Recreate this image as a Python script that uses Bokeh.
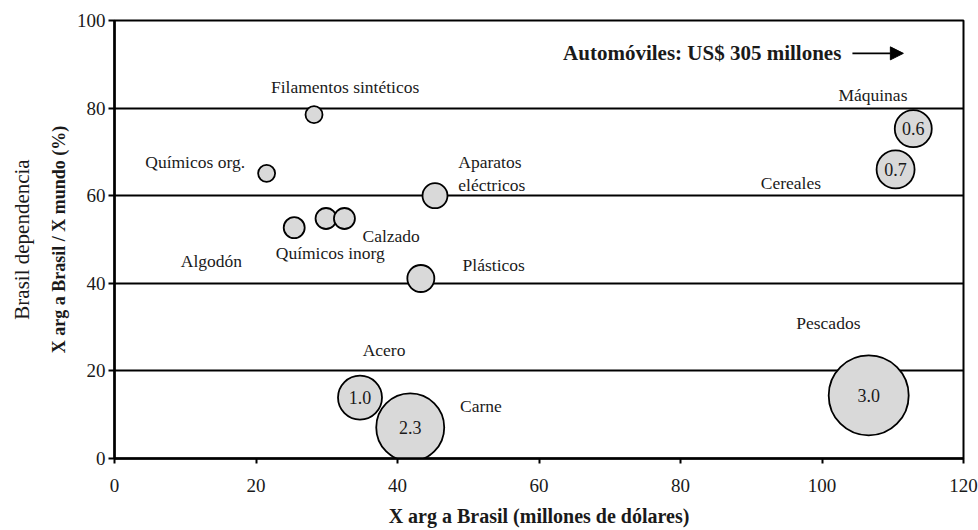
from bokeh.plotting import figure
from bokeh.models import Arrow, NormalHead, Title, FixedTicker, ColumnDataSource
from bokeh.core.properties import value
from bokeh.embed import file_html
from bokeh.resources import INLINE

# ---- data ----
products = ["Filamentos sintéticos", "Químicos org.", "Algodón", "Químicos inorg", "Calzado",
            "Aparatos eléctricos", "Plásticos", "Acero", "Carne", "Pescados", "Máquinas", "Cereales"]
x_exports = [28.2, 21.5, 25.4, 29.9, 32.5, 45.3, 43.3, 34.7, 41.8, 106.6, 112.9, 110.4]
y_dependence = [78.5, 65.1, 52.7, 54.8, 54.8, 60.0, 41.1, 13.9, 7.1, 14.4, 75.3, 66.0]
bubble_value = ["", "", "", "", "", "", "", "1.0", "2.3", "3.0", "0.6", "0.7"]
x_ticks = [0, 20, 40, 60, 80, 100, 120]
y_ticks = [0, 20, 40, 60, 80, 100]
auto_note = "Automóviles: US$ 305 millones"

# ---- presentation (sizes / label placement) ----
bubble_diam = [17, 17, 21, 21, 21, 25, 27, 44, 68, 80, 37, 38]
label_text = ["Filamentos sintéticos", "Químicos org.", "Algodón", "Químicos inorg", "Calzado",
              "Aparatos\neléctricos", "Plásticos", "Acero", "Carne", "Pescados", "Máquinas", "Cereales"]
label_x = [32.6, 11.4, 13.7, 30.5, 39.1, 48.6, 53.6, 38.1, 51.8, 100.9, 107.2, 95.6]
label_y = [84.9, 67.6, 45.2, 47.0, 50.9, 65.1, 44.1, 24.7, 12.1, 31.0, 82.9, 63.0]
label_align = ["center", "center", "center", "center", "center", "left",
               "center", "center", "center", "center", "center", "center"]

FONT = "Liberation Serif"

p = figure(width=978, height=530, x_range=(0, 120), y_range=(0, 100),
           output_backend="svg", toolbar_location=None,
           min_border_left=113, min_border_right=15, min_border_top=20, min_border_bottom=72)
p.background_fill_color = "white"
p.border_fill_color = "white"
p.outline_line_color = "black"
p.outline_line_width = 2

p.xgrid.visible = False
p.ygrid.grid_line_color = "black"
p.ygrid.grid_line_width = 1.8
p.ygrid.ticker = FixedTicker(ticks=y_ticks)

for ax in (p.xaxis[0], p.yaxis[0]):
    ax.axis_line_color = "black"
    ax.axis_line_width = 2.5
    ax.major_tick_line_color = "black"
    ax.major_tick_line_width = 2
    ax.major_tick_in = 0
    ax.minor_tick_line_color = None
    ax.major_label_text_font = FONT
    ax.major_label_text_font_size = "19px"
    ax.major_label_text_color = "#1a1a1a"

p.xaxis.ticker = FixedTicker(ticks=x_ticks)
p.yaxis.ticker = FixedTicker(ticks=y_ticks)
p.xaxis.major_tick_out = 5
p.yaxis.major_tick_out = 6
p.xaxis.major_label_standoff = 15
p.yaxis.major_label_standoff = 3

p.xaxis.axis_label = "X arg a Brasil (millones de dólares)"
p.xaxis.axis_label_text_font = FONT
p.xaxis.axis_label_text_font_style = "bold"
p.xaxis.axis_label_text_font_size = "20px"
p.xaxis.axis_label_text_color = "#1a1a1a"
p.xaxis.axis_label_standoff = 10

p.add_layout(Title(text="X arg a Brasil / X mundo (%)", text_font=FONT, text_font_size="18px",
                   text_font_style="bold", text_color="#1a1a1a", align="center", standoff=10), "left")
p.add_layout(Title(text="Brasil dependencia", text_font=FONT, text_font_size="21px",
                   text_font_style="normal", text_color="#1a1a1a", align="center", standoff=15), "left")

src = ColumnDataSource(dict(x=x_exports, y=y_dependence, d=bubble_diam, v=bubble_value))
p.scatter("x", "y", size="d", source=src, marker="circle", fill_color="#d9d9d9",
          line_color="black", line_width=1.8)
p.text("x", "y", text="v", source=src, text_font=value(FONT), text_font_size="18px",
       text_align="center", text_baseline="middle", text_color="#1a1a1a")

lsrc = ColumnDataSource(dict(x=label_x, y=label_y, t=label_text, a=label_align))
p.text("x", "y", text="t", source=lsrc, text_font=value(FONT), text_font_size="17.5px",
       text_align="a", text_baseline="middle", text_color="#1a1a1a", text_line_height=1.15)

p.text([63.4], [92.5], text=[auto_note], text_font=value(FONT), text_font_size="21px",
       text_font_style="bold", text_align="left", text_baseline="middle", text_color="#1a1a1a")
p.add_layout(Arrow(end=NormalHead(size=13, fill_color="black", line_color="black"),
                   x_start=104.3, y_start=92.5, x_end=111.5, y_end=92.5,
                   line_color="black", line_width=1.6))

open("out.html", "w").write(file_html(p, INLINE))
